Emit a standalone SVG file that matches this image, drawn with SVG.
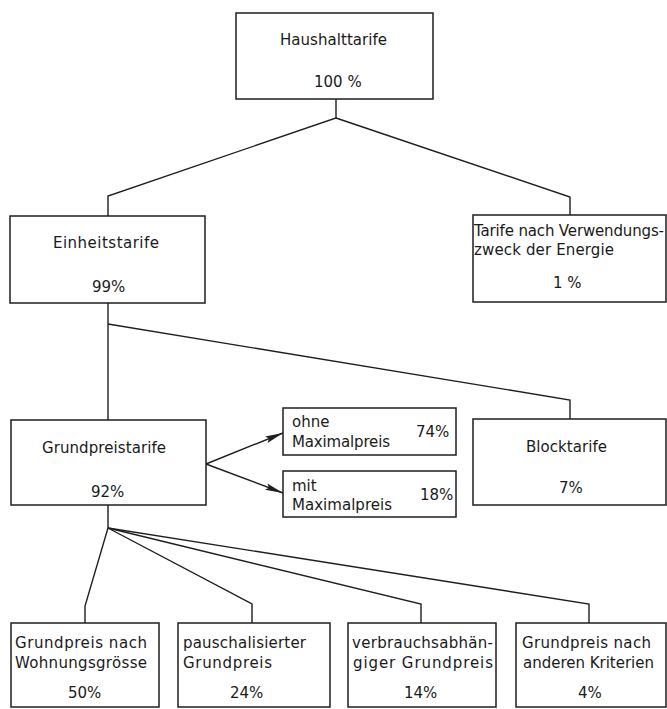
<svg xmlns="http://www.w3.org/2000/svg" width="667" height="709" viewBox="0 0 667 709">
<defs>
<style>
.box{fill:#fff;stroke:#1e1e1e;stroke-width:1.5}
.ln{fill:none;stroke:#1e1e1e;stroke-width:1.4}
text{font-family:"DejaVu Sans","Liberation Sans",sans-serif;font-size:15px;fill:#1a1a1a}
</style>
<marker id="ah" viewBox="0 0 18 8" refX="18" refY="4" markerWidth="18" markerHeight="8" markerUnits="userSpaceOnUse" orient="auto">
<path d="M0,0.6 L18,4 L0,7.4 L3,4 Z" fill="#1e1e1e"/>
</marker>
</defs>
<rect width="667" height="709" fill="#fff"/>
<g id="connectors">
<polyline class="ln" points="336,99 336,118 108,196 108,216"/>
<polyline class="ln" points="336,118 570,197 570,215"/>
<polyline class="ln" points="108,303 108,420"/>
<polyline class="ln" points="108,324 570,400 570,419"/>
<line class="ln" x1="206" y1="464" x2="283" y2="433" marker-end="url(#ah)"/>
<line class="ln" x1="206" y1="464" x2="283" y2="493" marker-end="url(#ah)"/>
<polyline class="ln" points="108,505 108,528 85,606 85,623"/>
<polyline class="ln" points="108,528 252,604 252,623"/>
<polyline class="ln" points="108,528 421,604 421,623"/>
<polyline class="ln" points="108,528 589,604 589,623"/>
</g>
<g id="haushalttarife">
<rect class="box" x="236" y="13" width="197" height="86"/>
<text x="280" y="45" textLength="107">Haushalttarife</text>
<text x="314" y="87">100 %</text>
</g>
<g id="einheitstarife">
<rect class="box" x="10" y="216" width="195" height="87"/>
<text x="53" y="248" textLength="106">Einheitstarife</text>
<text x="92" y="292">99%</text>
</g>
<g id="verwendungszweck">
<rect class="box" x="473" y="215" width="193" height="87"/>
<text x="474" y="236" textLength="190">Tarife nach Verwendungs-</text>
<text x="474" y="255" textLength="140">zweck der Energie</text>
<text x="553" y="288">1 %</text>
</g>
<g id="grundpreistarife">
<rect class="box" x="11" y="420" width="195" height="85"/>
<text x="42" y="453" textLength="124">Grundpreistarife</text>
<text x="91" y="497">92%</text>
</g>
<g id="ohne-maximalpreis">
<rect class="box" x="283" y="408" width="173" height="47"/>
<text x="292" y="427">ohne</text>
<text x="292" y="447" textLength="98">Maximalpreis</text>
<text x="416" y="437">74%</text>
</g>
<g id="mit-maximalpreis">
<rect class="box" x="283" y="471" width="173" height="46"/>
<text x="292" y="491">mit</text>
<text x="292" y="510" textLength="100">Maximalpreis</text>
<text x="420" y="500">18%</text>
</g>
<g id="blocktarife">
<rect class="box" x="473" y="419" width="193" height="86"/>
<text x="526" y="452" textLength="81">Blocktarife</text>
<text x="559" y="493">7%</text>
</g>
<g id="wohnungsgroesse">
<rect class="box" x="11" y="623" width="148" height="84"/>
<text x="15" y="648" textLength="132">Grundpreis nach</text>
<text x="15" y="668" textLength="132">Wohnungsgrösse</text>
<text x="68" y="698">50%</text>
</g>
<g id="pauschalisiert">
<rect class="box" x="178" y="623" width="152" height="84"/>
<text x="183" y="648" textLength="123">pauschalisierter</text>
<text x="183" y="668" textLength="89">Grundpreis</text>
<text x="230" y="698">24%</text>
</g>
<g id="verbrauchsabhaengig">
<rect class="box" x="348" y="623" width="148" height="84"/>
<text x="352" y="648" textLength="141">verbrauchsabhän-</text>
<text x="353" y="668" textLength="140">giger Grundpreis</text>
<text x="404" y="698">14%</text>
</g>
<g id="andere-kriterien">
<rect class="box" x="516" y="623" width="150" height="84"/>
<text x="522" y="648" textLength="129">Grundpreis nach</text>
<text x="523" y="668" textLength="131">anderen Kriterien</text>
<text x="578" y="698">4%</text>
</g>
</svg>
